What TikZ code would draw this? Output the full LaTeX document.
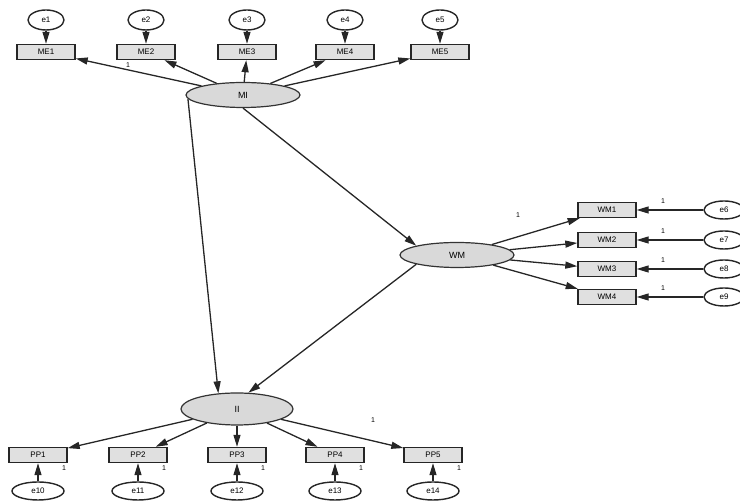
\documentclass[tikz,border=0pt]{standalone}
\usepackage{fontspec}
\setmainfont{Liberation Sans}
\usetikzlibrary{arrows.meta, shapes.geometric}

\begin{document}
\begin{tikzpicture}[x=1pt, y=1pt,
  latent/.style={draw=black!80, line width=1.2pt, ellipse, fill=black!15, minimum width=114pt, minimum height=25pt, inner sep=0pt, font=\small},
  item/.style={draw=black!85, line width=1.4pt, fill=black!12, minimum width=58pt, minimum height=15pt, inner sep=0pt, font=\footnotesize},
  err/.style={draw=black!85, line width=1.4pt, ellipse, fill=white, minimum width=36pt, minimum height=20pt, inner sep=0pt, font=\footnotesize},
  path/.style={draw=black!85, line width=1.3pt, -{Triangle[length=12pt, width=7pt]}},
  one/.style={inner sep=0.5pt, font=\scriptsize}]
\useasboundingbox (0, 0) rectangle (740, 502);
%Latent variables
\node [latent] (mi) at (243, 407) {MI};
\node [latent] (wm) at (457, 247) {WM};
\node [latent, minimum width=112pt, minimum height=32pt] (ii) at (237, 93) {II};
%Indicators
\node [item] (me1) at (46, 450) {ME1};
\node [item] (me2) at (146, 450) {ME2};
\node [item] (me3) at (247, 450) {ME3};
\node [item] (me4) at (345, 450) {ME4};
\node [item] (me5) at (440, 450) {ME5};
\node [item] (wm1) at (607, 292) {WM1};
\node [item] (wm2) at (607, 262) {WM2};
\node [item] (wm3) at (607, 233) {WM3};
\node [item] (wm4) at (607, 205) {WM4};
\node [item] (pp1) at (38, 47) {PP1};
\node [item] (pp2) at (138, 47) {PP2};
\node [item] (pp3) at (237, 47) {PP3};
\node [item] (pp4) at (335, 47) {PP4};
\node [item] (pp5) at (433, 47) {PP5};
%Errors
\node [err] (e1) at (46, 482) {e1};
\node [err] (e2) at (146, 482) {e2};
\node [err] (e3) at (247, 482) {e3};
\node [err] (e4) at (345, 482) {e4};
\node [err] (e5) at (440, 482) {e5};
\node [err, minimum width=40pt, minimum height=18pt] (e6) at (724, 292) {e6};
\node [err, minimum width=40pt, minimum height=18pt] (e7) at (724, 262) {e7};
\node [err, minimum width=40pt, minimum height=18pt] (e8) at (724, 233) {e8};
\node [err, minimum width=40pt, minimum height=18pt] (e9) at (724, 205) {e9};
\node [err, minimum width=52pt, minimum height=18pt] (e10) at (38, 11) {e10};
\node [err, minimum width=52pt, minimum height=18pt] (e11) at (138, 11) {e11};
\node [err, minimum width=52pt, minimum height=18pt] (e12) at (237, 11) {e12};
\node [err, minimum width=52pt, minimum height=18pt] (e13) at (335, 11) {e13};
\node [err, minimum width=52pt, minimum height=18pt] (e14) at (433, 11) {e14};
%Structural paths
\draw [path] (mi.184) -- (ii.140);
\draw [path] (mi.south) -- (wm.north west);
\draw [path] (wm.south west) -- (ii.55);
%Loadings
\draw [path] (mi) -- (me1);
\draw [path] (mi) -- (me2);
\draw [path] (mi) -- (me3);
\draw [path] (mi) -- (me4);
\draw [path] (mi) -- (me5);
\draw [path] (wm) -- (wm1);
\draw [path] (wm) -- (wm2);
\draw [path] (wm) -- (wm3);
\draw [path] (wm) -- (wm4);
\draw [path] (ii) -- (pp1);
\draw [path] (ii) -- (pp2);
\draw [path] (ii) -- (pp3);
\draw [path] (ii) -- (pp4);
\draw [path] (ii) -- (pp5);
%Error paths
\draw [path] (e1) -- (me1);
\draw [path] (e2) -- (me2);
\draw [path] (e3) -- (me3);
\draw [path] (e4) -- (me4);
\draw [path] (e5) -- (me5);
\draw [path] (e6) -- (wm1);
\draw [path] (e7) -- (wm2);
\draw [path] (e8) -- (wm3);
\draw [path] (e9) -- (wm4);
\draw [path] (e10) -- (pp1);
\draw [path] (e11) -- (pp2);
\draw [path] (e12) -- (pp3);
\draw [path] (e13) -- (pp4);
\draw [path] (e14) -- (pp5);
%Text
\node [one] (w1) at (128, 437) {1};
\node [one] (w2) at (518, 287) {1};
\node [one] (w3) at (373, 82) {1};
\node [one] (w4) at (663, 301) {1};
\node [one] (w5) at (663, 271) {1};
\node [one] (w6) at (663, 242) {1};
\node [one] (w7) at (663, 214) {1};
\node [one] (w8) at (64, 34) {1};
\node [one] (w9) at (164, 34) {1};
\node [one] (w10) at (263, 34) {1};
\node [one] (w11) at (361, 34) {1};
\node [one] (w12) at (459, 34) {1};
\end{tikzpicture}
\end{document}
